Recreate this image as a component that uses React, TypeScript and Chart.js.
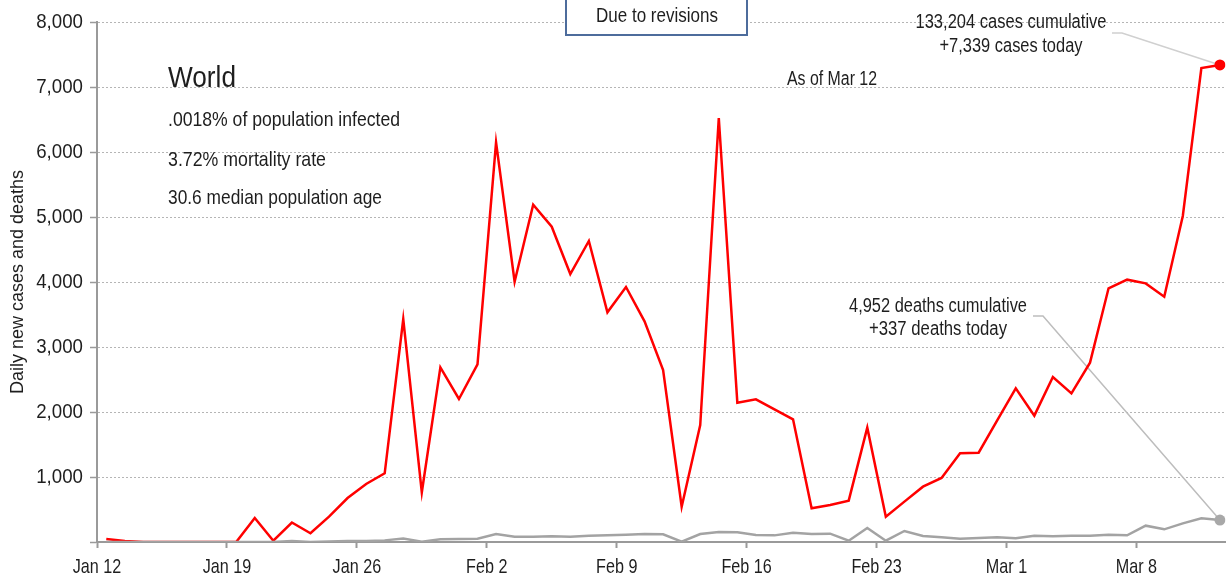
import React, { useEffect, useRef } from "react";
import { Chart, registerables } from "chart.js";
Chart.register(...registerables);

const dates = [
  "Jan 12", "Jan 13", "Jan 14", "Jan 15", "Jan 16", "Jan 17", "Jan 18", "Jan 19", "Jan 20", "Jan 21",
  "Jan 22", "Jan 23", "Jan 24", "Jan 25", "Jan 26", "Jan 27", "Jan 28", "Jan 29", "Jan 30", "Jan 31",
  "Feb 1", "Feb 2", "Feb 3", "Feb 4", "Feb 5", "Feb 6", "Feb 7", "Feb 8", "Feb 9", "Feb 10",
  "Feb 11", "Feb 12", "Feb 13", "Feb 14", "Feb 15", "Feb 16", "Feb 17", "Feb 18", "Feb 19", "Feb 20",
  "Feb 21", "Feb 22", "Feb 23", "Feb 24", "Feb 25", "Feb 26", "Feb 27", "Feb 28", "Feb 29",
  "Mar 1", "Mar 2", "Mar 3", "Mar 4", "Mar 5", "Mar 6", "Mar 7", "Mar 8", "Mar 9", "Mar 10", "Mar 11", "Mar 12",
];

const cases = [
  45, 15, 0, 0, 0, 0, 0, 0, 370, 20,
  300, 134, 390, 677, 892, 1057, 3430, 765, 2687, 2200,
  2733, 6149, 4005, 5190, 4851, 4123, 4631, 3533, 3923, 3395,
  2646, 543, 1800, 6523, 2143, 2195, 2041, 1887, 518, 569,
  636, 1759, 390, 621, 851, 985, 1364, 1374, 1872,
  2364, 1944, 2538, 2287, 2759, 3903, 4036, 3979, 3774, 5015, 7292, 7339,
];

const deaths = [
  0, 0, 0, 0, 0, 0, 0, 0, 0, 0,
  17, 0, 8, 15, 15, 25, 55, 5, 42, 46,
  51, 123, 82, 82, 87, 82, 97, 102, 113, 123,
  118, 5, 123, 154, 149, 108, 102, 144, 123, 128,
  20, 215, 20, 169, 92, 72, 51, 62, 72,
  56, 97, 87, 97, 97, 113, 103, 251, 195, 287, 364, 337,
];

const weekTicks = [0, 7, 14, 21, 28, 35, 42, 49, 56];
const weekLabels = ["Jan 12", "Jan 19", "Jan 26", "Feb 2", "Feb 9", "Feb 16", "Feb 23", "Mar 1", "Mar 8"];
const yTicks = [0, 1000, 2000, 3000, 4000, 5000, 6000, 7000, 8000];

const infoTitle = "World";
const infoLines = [".0018% of population infected", "3.72% mortality rate", "30.6 median population age"];
const asOfText = "As of Mar 12";
const casesNote = ["133,204 cases cumulative", "+7,339 cases today"];
const deathsNote = ["4,952 deaths cumulative", "+337 deaths today"];
const boxText = "Due to revisions";

const SANS = '"Liberation Sans", Arial, sans-serif';
const TEXT = "#1e1e1e";

// draw text squeezed horizontally (condensed look) to a target width
function fitText(ctx: any, text: string, x: number, y: number, align: string, width: number) {
  ctx.save();
  ctx.textAlign = align;
  const w = ctx.measureText(text).width;
  ctx.translate(x, y);
  ctx.scale(width / w, 1);
  ctx.fillText(text, 0, 0);
  ctx.restore();
}

function squeezeText(ctx: any, text: string, x: number, y: number, align: string, factor: number) {
  ctx.save();
  ctx.textAlign = align;
  ctx.translate(x, y);
  ctx.scale(factor, 1);
  ctx.fillText(text, 0, 0);
  ctx.restore();
}

const annotPlugin = {
  id: "annot",
  beforeDatasetsDraw(chart: any) {
    const ctx = chart.ctx;
    const xs = chart.scales.x;
    const ys = chart.scales.y;
    const last = cases.length - 1;
    const xp = xs.getPixelForValue(last + 0.5);
    const yc = ys.getPixelForValue(cases[last]);
    const yd = ys.getPixelForValue(deaths[last]);
    ctx.save();
    ctx.lineWidth = 1.5;
    ctx.strokeStyle = "#d0d0d0";
    ctx.beginPath();
    ctx.moveTo(1112, 33);
    ctx.lineTo(1122, 33);
    ctx.lineTo(xp, yc);
    ctx.stroke();
    ctx.strokeStyle = "#bdbdbd";
    ctx.beginPath();
    ctx.moveTo(1033, 316);
    ctx.lineTo(1043, 316);
    ctx.lineTo(xp, yd);
    ctx.stroke();
    ctx.restore();
  },
  afterDraw(chart: any) {
    const ctx = chart.ctx;
    const xs = chart.scales.x;
    const ys = chart.scales.y;
    ctx.save();
    ctx.fillStyle = TEXT;

    // axis tick labels (condensed)
    ctx.font = `21px ${SANS}`;
    ctx.textBaseline = "middle";
    yTicks.forEach((v) => {
      if (v === 0) return;
      squeezeText(ctx, v.toLocaleString("en-US"), ys.right - 14, ys.getPixelForValue(v), "right", 0.89);
    });
    weekTicks.forEach((t, i) => {
      squeezeText(ctx, weekLabels[i], xs.getPixelForValue(t), xs.top + 25.5, "center", 0.77);
    });

    ctx.textBaseline = "alphabetic";
    ctx.font = `30px ${SANS}`;
    fitText(ctx, infoTitle, 168, 87, "left", 68);
    ctx.font = `21px ${SANS}`;
    const bases = [126, 166, 204];
    const widths = [232, 158, 214];
    infoLines.forEach((t, i) => fitText(ctx, t, 168, bases[i], "left", widths[i]));

    ctx.textBaseline = "middle";
    ctx.font = `19.5px ${SANS}`;
    fitText(ctx, asOfText, 832, 80, "center", 90);

    ctx.font = `20px ${SANS}`;
    fitText(ctx, casesNote[0], 1011, 22, "center", 191);
    fitText(ctx, casesNote[1], 1011, 46, "center", 143);
    fitText(ctx, deathsNote[0], 938, 306, "center", 178);
    fitText(ctx, deathsNote[1], 938, 329, "center", 138);

    // revisions box
    ctx.fillStyle = "#ffffff";
    ctx.fillRect(566, -4, 181, 39);
    ctx.lineWidth = 2;
    ctx.strokeStyle = "#4d6c9c";
    ctx.strokeRect(566, -4, 181, 39);
    ctx.fillStyle = TEXT;
    ctx.font = `21px ${SANS}`;
    fitText(ctx, boxText, 657, 16, "center", 122);
    ctx.restore();
  },
};

export default function App() {
  const ref = useRef<HTMLCanvasElement | null>(null);

  useEffect(() => {
    if (!ref.current) return;
    const last = cases.length - 1;
    const chart = new Chart(ref.current, {
      type: "line",
      data: {
        datasets: [
          {
            label: "Deaths",
            data: deaths.map((v, i) => ({ x: i + 0.5, y: v })),
            borderColor: "#a3a3a3",
            backgroundColor: "#a3a3a3",
            borderWidth: 2.5,
            tension: 0,
            pointRadius: (c: any) => (c.dataIndex === last ? 5.5 : 0),
            pointBackgroundColor: "#a8a8a8",
            pointBorderWidth: 0,
          },
          {
            label: "Cases",
            data: cases.map((v, i) => ({ x: i + 0.5, y: v })),
            borderColor: "#ff0000",
            backgroundColor: "#ff0000",
            borderWidth: 2.5,
            tension: 0,
            pointRadius: (c: any) => (c.dataIndex === last ? 5.5 : 0),
            pointBackgroundColor: "#ff0000",
            pointBorderWidth: 0,
          },
        ],
      },
      options: {
        animation: false,
        responsive: false,
        maintainAspectRatio: false,
        layout: { padding: { top: 22, right: 0, bottom: 0, left: 0 } },
        plugins: {
          legend: { display: false },
          tooltip: { enabled: false },
          title: { display: false },
        },
        scales: {
          x: {
            type: "linear",
            min: 0,
            max: 60.8,
            afterBuildTicks: (scale: any) => {
              scale.ticks = weekTicks.map((v) => ({ value: v }));
            },
            afterFit: (scale: any) => {
              scale.height = 37;
            },
            ticks: { display: false, autoSkip: false, maxRotation: 0 },
            grid: {
              display: true,
              drawOnChartArea: false,
              drawTicks: true,
              tickLength: 6,
              tickColor: "#9a9a9a",
              tickWidth: 2,
            },
            border: { display: true, color: "#9a9a9a", width: 2 },
          },
          y: {
            type: "linear",
            min: 0,
            max: 8000,
            afterBuildTicks: (scale: any) => {
              scale.ticks = yTicks.map((v) => ({ value: v }));
            },
            afterFit: (scale: any) => {
              scale.width = 97;
            },
            ticks: { display: false },
            grid: {
              display: true,
              drawOnChartArea: true,
              drawTicks: true,
              color: "#b5b5b5",
              lineWidth: 1,
              tickLength: 7,
              tickColor: "#9a9a9a",
              tickWidth: 1.5,
              tickBorderDash: [],
            },
            border: { display: true, color: "#9a9a9a", width: 2, dash: [2, 2] },
            title: {
              display: true,
              text: "Daily new cases and deaths",
              color: TEXT,
              font: { family: SANS, size: 18 },
              padding: { top: 7, bottom: 4 },
            },
          },
        },
      },
      plugins: [annotPlugin],
    } as any);
    return () => chart.destroy();
  }, []);

  return (
    <div style={{ position: "absolute", left: 0, top: 0, width: 1231, height: 579, background: "#fff" }}>
      <canvas ref={ref} width={1231} height={579} style={{ display: "block" }} />
    </div>
  );
}
